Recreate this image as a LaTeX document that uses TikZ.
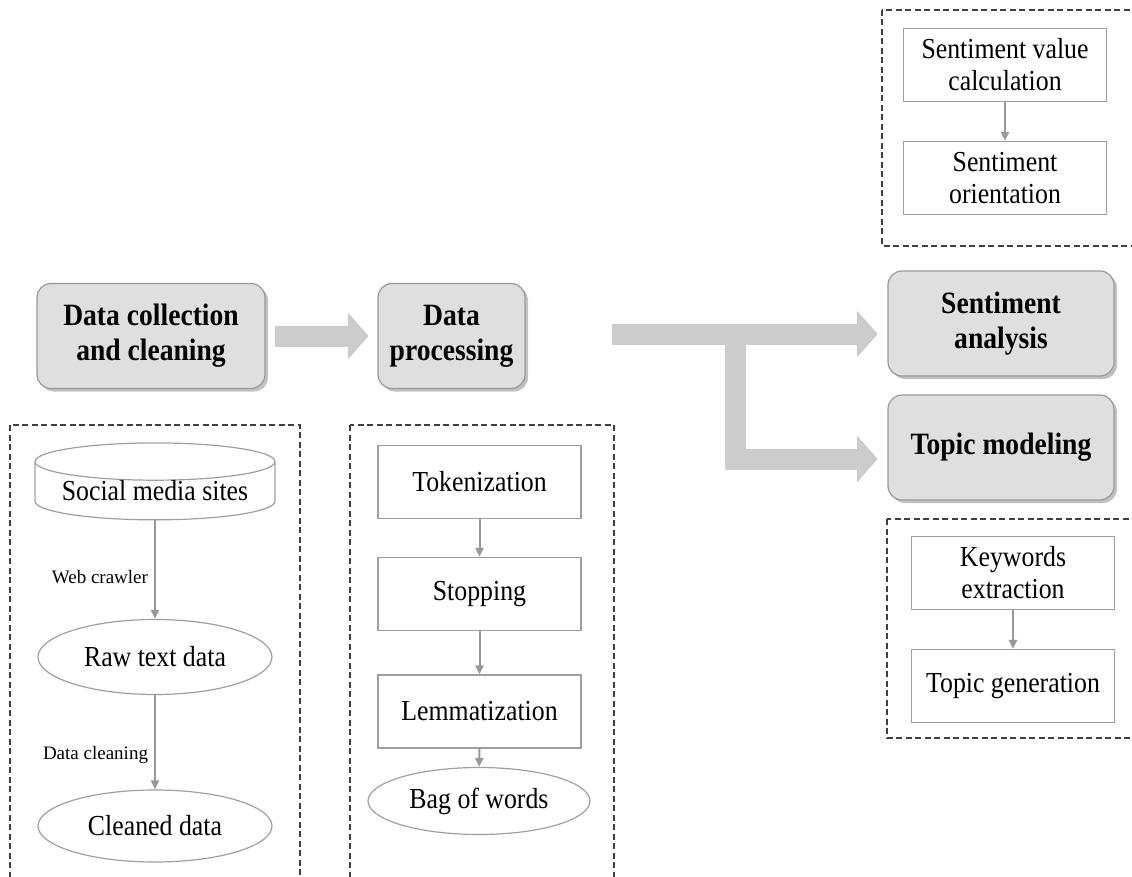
\documentclass[tikz,border=0pt]{standalone}
\usepackage{fontspec}
\setmainfont{Liberation Serif}
\newfontfamily\boxfont{Liberation Serif}[FakeStretch=0.89]
\usetikzlibrary{shapes.geometric,shadows,arrows.meta}

\begin{document}
\begin{tikzpicture}[x=1pt,y=-1pt,
  stage/.style={draw=gray!80,fill=gray!25,line width=1.2pt,rounded corners=14pt,
    minimum height=105pt,align=center,
    font=\boxfont\fontsize{31}{35}\selectfont\bfseries,
    drop shadow={shadow xshift=3pt,shadow yshift=-3pt,fill=gray!70,opacity=.7}},
  item/.style={draw=gray!75,line width=1.2pt,minimum width=203pt,minimum height=73pt,
    align=center,font=\boxfont\fontsize{29}{32}\selectfont},
  oval/.style={ellipse,draw=gray!75,line width=1.2pt,inner sep=0pt,
    font=\boxfont\fontsize{29}{32}\selectfont},
  store/.style={cylinder,shape border rotate=90,aspect=0.2,draw=gray!75,line width=1.2pt,
    minimum width=240pt,minimum height=56pt,inner sep=0pt,
    font=\boxfont\fontsize{29}{32}\selectfont},
  flow/.style={draw=gray!80,line width=2pt,-{Triangle[length=9pt,width=8pt]}},
  tag/.style={font=\fontsize{19}{22}\selectfont,inner sep=6pt},
  group/.style={draw=black!75,line width=1.3pt,dash pattern=on 6pt off 3.5pt},
  fat/.style={draw=gray!40,line width=21pt,-{Triangle[length=20pt,width=44pt]}},
  fatshade/.style={fat,draw=gray!65,xshift=2pt,yshift=-2pt}
]
\useasboundingbox (0,0) rectangle (1132,877);

\node[stage,minimum width=228pt] (collect) at (151,336) {Data collection\\and cleaning};
\node[stage,minimum width=147pt] (process) at (451.5,336) {Data\\processing};
\node[stage,minimum width=226pt] (sentiment) at (1001,323.5) {Sentiment\\analysis};
\node[stage,minimum width=226pt] (topic) at (1001,447.5) {Topic modeling};

\coordinate (fork) at (612,334);
\coordinate (turn) at (735,459);

\draw[fatshade,shorten <=9pt,shorten >=9pt] (collect.east) -- (process.west);
\draw[fatshade,shorten >=10pt] (fork) -- (fork -| sentiment.west);
\draw[fatshade,shorten >=10pt,line join=miter] (fork -| turn) |- (turn -| topic.west);
\draw[fat,shorten <=9pt,shorten >=9pt] (collect.east) -- (process.west);
\draw[fat,shorten >=10pt] (fork) -- (fork -| sentiment.west);
\draw[fat,shorten >=10pt,line join=miter] (fork -| turn) |- (turn -| topic.west);

\draw[group] (10,425) rectangle (300,885);
\draw[group] (350,425) rectangle (614,885);
\draw[group] (882,10) rectangle (1145,246);
\draw[group] (887,519) rectangle (1145,738);

\node[store] (social) at (155,491) {Social media sites};
\node[oval,minimum width=234pt,minimum height=75pt] (raw) at (155,657) {Raw text data};
\node[oval,minimum width=234pt,minimum height=72pt] (cleaned) at (155,826) {Cleaned data};
\draw[flow] (social) -- node[tag,left,pos=0.58] {Web crawler} (raw);
\draw[flow] (raw) -- node[tag,left,pos=0.63] {Data cleaning} (cleaned);

\node[item] (token) at (479.5,482) {Tokenization};
\node[item] (stop) at (479.5,594) {Stopping};
\node[item] (lemma) at (479.5,711.5) {Lemmatization};
\node[oval,minimum width=222pt,minimum height=67pt] (bag) at (479,801) {Bag of words};
\draw[flow] (token) -- (stop);
\draw[flow] (stop) -- (lemma);
\draw[flow] (lemma) -- (bag);

\node[item] (calc) at (1005,65) {Sentiment value\\calculation};
\node[item] (orient) at (1005,178) {Sentiment\\orientation};
\draw[flow] (calc) -- (orient);

\node[item] (keyword) at (1013,573) {Keywords\\extraction};
\node[item] (topicgen) at (1013,686) {Topic generation};
\draw[flow] (keyword) -- (topicgen);
\end{tikzpicture}
\end{document}
